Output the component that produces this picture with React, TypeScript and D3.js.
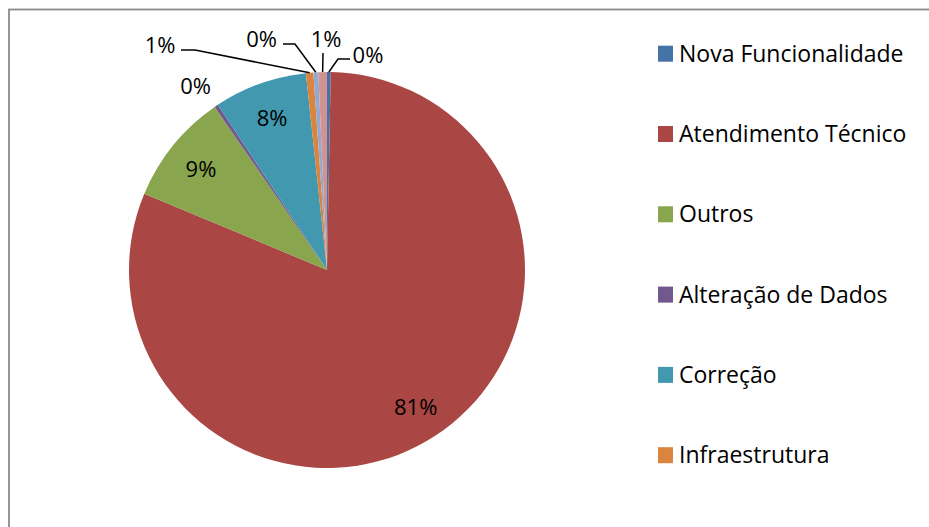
import React from "react";
import * as d3 from "d3";

// ---- data ----
const categories = [
  "Nova Funcionalidade",
  "Atendimento Técnico",
  "Outros",
  "Alteração de Dados",
  "Correção",
  "Infraestrutura",
  "Categoria 7",
  "Categoria 8",
];
const values = [3, 810, 91, 3, 76, 6, 4, 7];
const colors = ["#4572A7", "#AA4643", "#89A54E", "#71588F", "#4198AF", "#DB843D", "#93A9CF", "#D19392"];
const legendCount = 6; // legend in the reference shows the first six entries

// ---- layout ----
const W = 929;
const H = 527;
const cx = 327;
const cy = 270;
const R = 198;
const FONT = "'Open Sans', sans-serif";

// outside labels (small slices): label centre and leader elbow, as offsets from pie centre
const outsideLayout: Record<number, { lx: number; ly: number; elbow?: [number, number][]; anchorEnd?: boolean }> = {
  0: { lx: 41, ly: -216.5, elbow: [[11, -211], [23, -211]] },
  3: { lx: -131.5, ly: -185.5 },
  5: { lx: -167, ly: -226.5, elbow: [[-132, -220], [-146, -220]] },
  6: { lx: -65.5, ly: -232.5, elbow: [[-32, -226], [-44, -226]] },
  7: { lx: -1, ly: -232.5, elbow: [[-4, -217]] },
};

export default function App() {
  const data = categories.map((c, i) => ({ name: c, value: values[i], color: colors[i], i }));
  const total = d3.sum(values);
  const pie = d3
    .pie<any>()
    .sort(null)
    .value((d) => d.value)
    .startAngle(0)
    .endAngle(2 * Math.PI);
  const arcs = pie(data);
  const arc = d3.arc<any>().innerRadius(0).outerRadius(R);
  const labelArc = d3.arc<any>().innerRadius(R * 0.82).outerRadius(R * 0.82);
  const fmt = d3.format(".0%");

  const polar = (a: number, r: number): [number, number] => [Math.sin(a) * r, -Math.cos(a) * r];

  return (
    <svg
      width={W}
      height={H}
      style={{ position: "absolute", left: 0, top: 0, background: "#fff" }}
      fontFamily={FONT}
    >
      <rect x={0} y={0} width={W} height={H} fill="#fff" />
      <rect x={9} y={9.5} width={W + 20} height={H + 20} fill="none" stroke="#8a8a8a" strokeWidth={1.8} />
      <g transform={`translate(${cx},${cy})`}>
        {arcs.map((a) => (
          <path key={a.data.name} d={arc(a) || ""} fill={a.data.color} />
        ))}
        {arcs.map((a) => {
          const i = a.data.i;
          const txt = fmt(a.data.value / total);
          const lay = outsideLayout[i];
          if (!lay) {
            const [x, y] = labelArc.centroid(a);
            return (
              <text key={"l" + i} x={x} y={y} textAnchor="middle" dominantBaseline="central" fontSize={22} fill="#000">
                {txt}
              </text>
            );
          }
          const mid = (a.startAngle + a.endAngle) / 2;
          const edge = polar(mid, R);
          const pts: [number, number][] = lay.elbow ? [edge, ...lay.elbow] : [];
          return (
            <g key={"l" + i}>
              {pts.length > 1 && (
                <polyline
                  points={pts.map((p) => p.join(",")).join(" ")}
                  fill="none"
                  stroke="#000"
                  strokeWidth={1.5}
                />
              )}
              <text x={lay.lx} y={lay.ly} textAnchor="middle" dominantBaseline="central" fontSize={22} fill="#000">
                {txt}
              </text>
            </g>
          );
        })}
      </g>
      <g>
        {data.slice(0, legendCount).map((d, k) => {
          const base = 61.7 + k * 80.3;
          return (
            <g key={d.name}>
              <rect x={658} y={base - 16} width={15} height={16} fill={d.color} />
              <text x={679} y={base} fontSize={23} fill="#000">
                {d.name}
              </text>
            </g>
          );
        })}
      </g>
    </svg>
  );
}
